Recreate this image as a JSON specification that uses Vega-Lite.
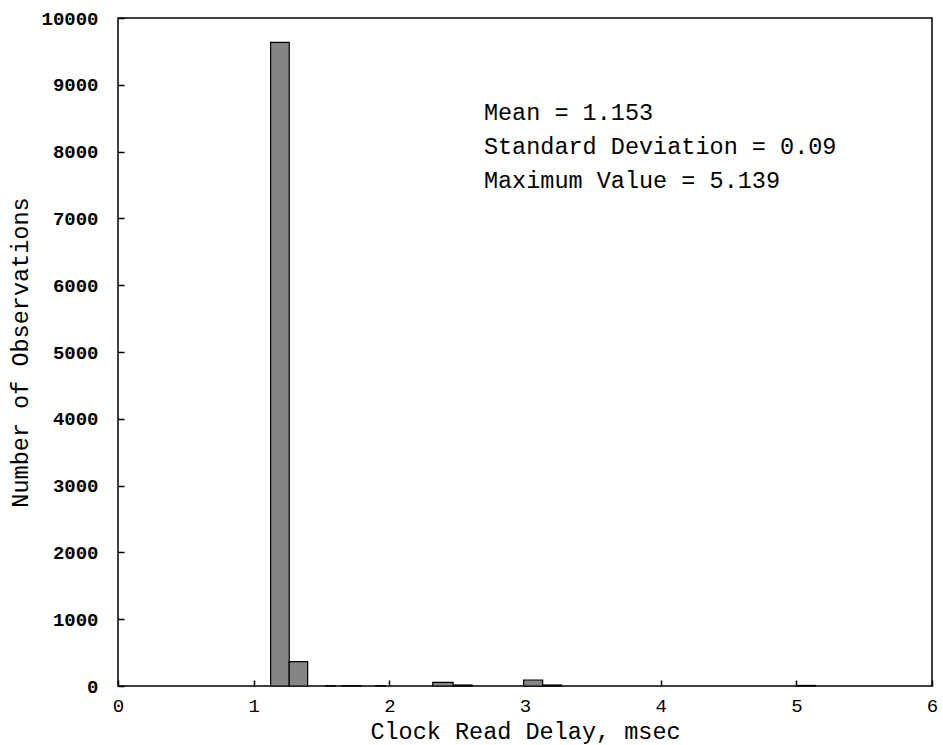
{
  "$schema": "https://vega.github.io/schema/vega-lite/v6.json",
  "width": 814,
  "height": 668,
  "autosize": "none",
  "padding": {"left": 118, "top": 18, "right": 11, "bottom": 59},
  "background": "white",
  "config": {
    "view": {"stroke": "black", "strokeWidth": 1.5},
    "axis": {
      "domain": false,
      "grid": false,
      "labelFont": "Liberation Mono",
      "labelColor": "black",
      "titleFont": "Liberation Mono",
      "titleFontWeight": "normal",
      "titleColor": "black",
      "tickColor": "black",
      "tickWidth": 1.5,
      "labelFlush": false
    }
  },
  "layer": [
    {
      "data": {
        "values": [
          {"lo": 1.125, "hi": 1.262, "count": 9635},
          {"lo": 1.262, "hi": 1.398, "count": 365},
          {"lo": 1.53, "hi": 1.60, "count": 5},
          {"lo": 1.65, "hi": 1.79, "count": 5},
          {"lo": 1.9, "hi": 1.97, "count": 5},
          {"lo": 2.32, "hi": 2.47, "count": 55},
          {"lo": 2.47, "hi": 2.61, "count": 15},
          {"lo": 2.99, "hi": 3.13, "count": 90},
          {"lo": 3.13, "hi": 3.27, "count": 15},
          {"lo": 5.0, "hi": 5.14, "count": 8}
        ]
      },
      "mark": {"type": "rect", "fill": "#858585", "stroke": "black", "strokeWidth": 1.2},
      "encoding": {
        "x": {
          "field": "lo",
          "type": "quantitative",
          "scale": {"domain": [0, 6], "nice": false},
          "axis": {
            "title": "Clock Read Delay, msec",
            "values": [0, 1, 2, 3, 4, 5, 6],
            "format": "d",
            "labelFontSize": 19,
            "labelPadding": 16,
            "tickSize": -6,
            "titleFontSize": 23.5,
            "titlePadding": 4
          }
        },
        "x2": {"field": "hi"},
        "y": {
          "field": "count",
          "type": "quantitative",
          "scale": {"domain": [0, 10000], "nice": false},
          "axis": {
            "title": "Number of Observations",
            "values": [0, 1000, 2000, 3000, 4000, 5000, 6000, 7000, 8000, 9000, 10000],
            "format": "d",
            "labelFontSize": 19,
            "labelFontWeight": "bold",
            "labelPadding": 26,
            "tickSize": -6,
            "titleFontSize": 23.5,
            "titlePadding": 8
          }
        },
        "y2": {"datum": 0}
      }
    },
    {
      "data": {
        "values": [
          {"x": 2.697, "y": 8578, "label": "Mean = 1.153"},
          {"x": 2.697, "y": 8069, "label": "Standard Deviation = 0.09"},
          {"x": 2.697, "y": 7560, "label": "Maximum Value = 5.139"}
        ]
      },
      "mark": {"type": "text", "align": "left", "baseline": "middle", "font": "Liberation Mono", "fontSize": 23.5, "color": "black"},
      "encoding": {
        "x": {"field": "x", "type": "quantitative"},
        "y": {"field": "y", "type": "quantitative"},
        "text": {"field": "label"}
      }
    }
  ]
}
